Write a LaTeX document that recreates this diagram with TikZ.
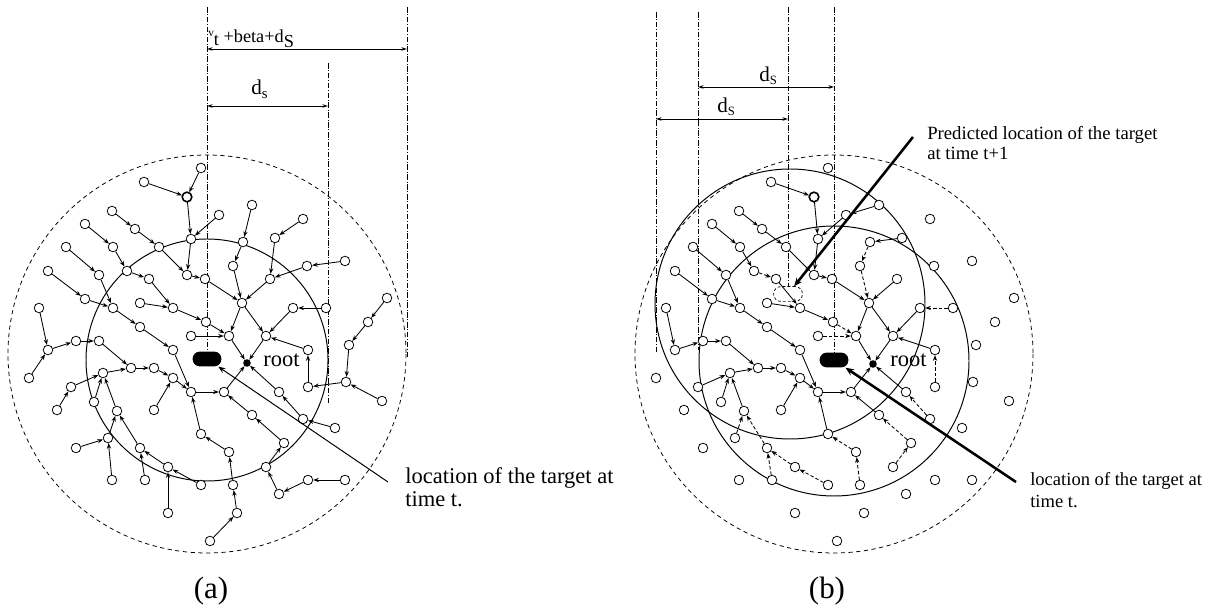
\documentclass[tikz,border=0pt]{standalone}
\usepackage{fontspec}
\setmainfont{Liberation Serif}
\usetikzlibrary{arrows.meta}

\tikzset{
  sensore/.style={circle,draw,fill=white,inner sep=0pt,minimum size=2.4mm,line width=0.55pt},
  freccia/.style={-{Stealth[length=4pt,width=3pt]},line width=0.6pt},
  nuova/.style={freccia,dash pattern=on 2.5pt off 1.5pt},
  guida/.style={line width=0.4pt,dash pattern=on 4pt off 1.2pt on 0.6pt off 1.2pt},
  quota/.style={{Stealth[length=4pt,width=2.5pt]}-{Stealth[length=4pt,width=2.5pt]},line width=0.7pt},
  bersaglio/.style={rectangle,rounded corners=1.8mm,minimum width=7.2mm,minimum height=3.7mm,inner sep=0pt},
  spessa/.style={line width=1.8pt,-{Stealth[length=6pt,width=5pt]}}
}

% posizioni dei sensori (in pixel del disegno)
\def\sensori{1/201/168,2/144/182,3/187/197,4/112/211,5/135/229,6/191/239,7/219/215,8/85/224,9/159/247,10/113/247,11/66/247,12/127/271,13/99/275,14/48/271,15/149/279,16/187/275,17/205/279,18/252/205,19/243/242,20/275/238,21/303/219,22/233/266,23/270/279,24/307/266,25/345/261,26/387/298,27/85/299,28/113/308,29/173/308,30/140/303,31/242/303,32/293/308,33/326/308,34/368/322,35/349/345,36/39/308,37/140/327,38/206/322,39/229/336,40/191/336,41/266/336,42/48/350,43/76/341,44/99/341,45/173/350,46/308/350,47/29/378,48/103/373,49/131/368,50/154/368,51/173/378,52/71/387,53/191/392,54/224/392,55/308/387,56/346/382,57/279/392,58/382/401,59/57/410,60/94/402,61/117/411,62/154/410,63/252/415,64/303/419,65/335/428,66/201/434,67/284/443,68/76/448,69/108/438,70/140/448,71/229/452,72/168/467,73/266/467,74/112/480,75/145/480,76/201/485,77/233/485,78/279/494,79/308/480,80/345/480,81/168/513,82/237/513,83/210/541}

% albero (a)
\def\alberoA{1/3,2/3,3/6,6/16,7/6,4/5,5/9,9/16,8/10,10/12,12/15,11/13,13/28,14/27,27/28,16/17,18/19,19/22,21/20,20/23,25/24,24/23,22/31,17/31,23/31,15/29,30/29,29/38,38/39,40/39,31/39,31/41,39/root,41/root,32/41,33/32,46/41,55/46,56/55,58/56,35/56,34/35,26/34,57/root,64/57,65/64,54/root,53/54,63/54,67/63,66/53,71/66,28/37,37/45,45/53,36/42,47/42,42/43,43/44,44/49,49/50,50/51,51/53,48/49,52/48,59/52,60/48,61/48,62/51,69/61,68/69,74/69,70/61,75/70,72/70,81/72,76/72,77/71,82/77,83/82,73/67,78/73,79/78,80/79}

% albero (b)
\def\alberoB{2/3,3/6,6/16,7/6,18/7,4/5,5/9,9/16,8/10,10/12,11/13,13/28,14/27,27/28,16/17,20/19,23/31,17/31,30/29,29/38,15/29,31/39,31/41,39/root,41/root,32/41,46/41,57/root,54/root,53/54,63/54,66/53,28/37,37/45,45/53,36/42,42/43,43/44,44/49,49/50,50/51,51/53,48/49,52/48,60/48,61/48,62/51}
\def\nuoviB{12/15,19/22,22/31,38/39,40/39,33/32,55/46,64/57,67/63,73/67,71/66,77/71,69/61,70/61,75/70,72/70,76/72}

\begin{document}
\begin{tikzpicture}[x=0.025cm,y=-0.025cm]
        \useasboundingbox (0,0) rectangle (1213,609);

        %cerchi (a)
        \draw[dash pattern=on 3pt off 2.5pt,line width=0.55pt] (207,354) circle (199);
        \draw[line width=0.7pt] (207,360) circle (121);
        %cerchi (b)
        \draw[dash pattern=on 3pt off 2.5pt,line width=0.55pt] (834,354) circle (199);
        \draw[line width=0.7pt] (834,361) circle (135);
        \draw[line width=0.7pt] (790,304) circle (135);

        %bersagli
        \node[bersaglio,fill=black] (abers) at (207,359) {};
        \node[bersaglio,fill=black] (bbers) at (834,360) {};
        \node[bersaglio,draw,dash pattern=on 2pt off 1.5pt,line width=0.5pt] (bpred) at (788,294) {};
        \node[circle,fill,inner sep=0pt,minimum size=1.9mm] (aroot) at (247,363) {};
        \node[circle,fill,inner sep=0pt,minimum size=1.9mm] (broot) at (873,364) {};

        %guide (a)
        \draw[guida] (207,7) -- (abers.north);
        \draw[guida] (328,63) -- (328,403);
        \draw[guida] (407,7) -- (407,358);
        %guide (b)
        \draw[guida] (656,12) -- (656,352);
        \draw[guida] (698,12) -- (698,350);
        \draw[guida] (788,7) -- (bpred.north);
        \draw[guida] (834,7) -- (bbers.north);

        %quote
        \coordinate (qa1) at (207,49); \coordinate (qa2) at (407,49);
        \coordinate (qa3) at (207,106); \coordinate (qa4) at (328,106);
        \coordinate (qb1) at (698,87); \coordinate (qb2) at (834,87);
        \coordinate (qb3) at (656,119); \coordinate (qb4) at (788,119);
        \draw[quota] (qa1) -- (qa2);
        \draw[quota] (qa3) -- (qa4);
        \draw[quota] (qb1) -- (qb2);
        \draw[quota] (qb3) -- (qb4);
        \node[anchor=base west,inner sep=0pt,font=\fontsize{13}{15}\selectfont] (lva) at (208,43)
          {\raisebox{.8ex}{\footnotesize v}\raisebox{-.25ex}{t} +beta+d\raisebox{-.5ex}{S}};
        \node[anchor=base west,inner sep=0pt,font=\fontsize{15}{17}\selectfont] (lda) at (251,95) {d\textsubscript{s}};
        \node[anchor=base west,inner sep=0pt,font=\fontsize{15}{17}\selectfont] (ldb1) at (759,82) {d\raisebox{-.3ex}{\small S}};
        \node[anchor=base west,inner sep=0pt,font=\fontsize{15}{17}\selectfont] (ldb2) at (717,113) {d\raisebox{-.3ex}{\small S}};

        %sensori
        \foreach \n/\x/\y in \sensori {
          \node[sensore] (a\n) at (\x,\y) {};
          \node[sensore] (b\n) at (\x+627,\y) {};
        }
        \node[sensore,line width=1.1pt] at (a3) {};
        \node[sensore,line width=1.1pt] at (b3) {};

        %frecce
        \foreach \s/\t in \alberoA \draw[freccia] (a\s) -- (a\t);
        \foreach \s/\t in \alberoB \draw[freccia] (b\s) -- (b\t);
        \foreach \s/\t in \nuoviB \draw[nuova] (b\s) -- (b\t);

        %etichette
        \node[anchor=base west,inner sep=0pt,font=\fontsize{16}{18}\selectfont] (lra) at (263,367) {root};
        \node[anchor=base west,inner sep=0pt,font=\fontsize{16}{18}\selectfont] (lrb) at (890,367) {root};
        \coordinate (ca) at (388,482);
        \draw[-{Stealth[length=5pt,width=4pt]},line width=0.7pt] (ca) -- (abers);
        \node[anchor=north west,align=left,inner sep=0pt,font=\fontsize{16}{16.4}\selectfont] (lta) at (405,467)
          {location of the target at\\time t.};
        \coordinate (cb) at (1016,482);
        \draw[spessa] (cb) -- (bbers);
        \node[anchor=north west,align=left,inner sep=0pt,font=\fontsize{13.2}{15.6}\selectfont] (ltb) at (1030,472)
          {location of the target at\\time t.};
        \coordinate (cp) at (913,137);
        \draw[spessa] (cp) -- (bpred);
        \node[anchor=north west,align=left,inner sep=0pt,font=\fontsize{13.3}{14.2}\selectfont] (lpb) at (927,126)
          {Predicted location of the target\\at time t+1};
        \node[font=\fontsize{22}{24}\selectfont] (capa) at (211,591) {(a)};
        \node[font=\fontsize{22}{24}\selectfont] (capb) at (827,591) {(b)};

\end{tikzpicture}
\end{document}
